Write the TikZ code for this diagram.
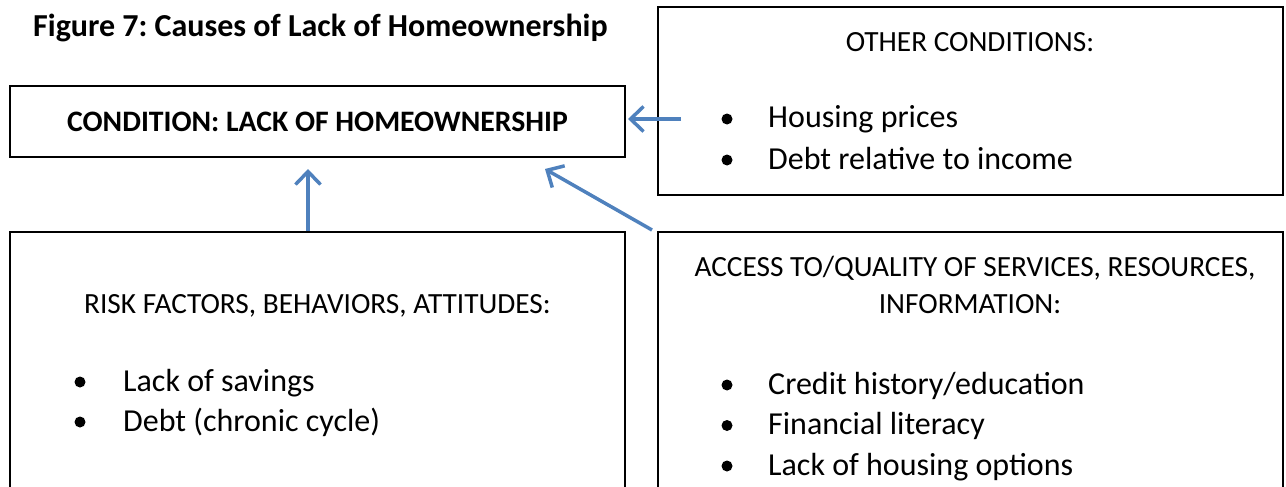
\documentclass[tikz,border=0pt]{standalone}
\usepackage{fontspec}
\setmainfont{Carlito}
\frenchspacing
\usetikzlibrary{arrows.meta,positioning,calc}
\definecolor{arrblue}{HTML}{4F81BD}

\begin{document}
\begin{tikzpicture}[x=1pt, y=-1pt,
    box/.style={draw, line width=2pt, rectangle, inner sep=0pt},
    arr/.style={-{Straight Barb[length=13pt, width=25pt]}, line width=3.5pt, draw=arrblue},
    head/.style={font=\fontsize{29.3}{35}\selectfont, anchor=base, inner sep=0pt},
    item/.style={font=\fontsize{32}{38}\selectfont, anchor=base west, inner sep=0pt},
    dot/.style={circle, fill, inner sep=0pt, minimum size=11pt}
]
    \useasboundingbox (0,0) rectangle (1286,487);
    \clip (0,0) rectangle (1286,487);

    % Title
    \node[anchor=base west, inner sep=0pt, font=\bfseries\fontsize{32}{38}\selectfont]
        (title) at (33,37) {Figure 7: Causes of Lack of Homeownership};

    % Boxes
    \node[box, minimum width=615pt, minimum height=71pt,
          font=\bfseries\fontsize{29.7}{36}\selectfont] (cond) at (317.5,121.5)
        {CONDITION: LACK OF HOMEOWNERSHIP};
    \node[box, minimum width=625pt, minimum height=188pt] (other)  at (970.5,101) {};
    \node[box, minimum width=615pt, minimum height=288pt] (risk)   at (317.5,376) {};
    \node[box, minimum width=625pt, minimum height=288pt] (access) at (970.5,376) {};

    % Headings
    \node[head] (otherhd)  at (970,52)    {OTHER CONDITIONS:};
    \node[head] (riskhd)   at (317.5,313) {RISK FACTORS, BEHAVIORS, ATTITUDES:};
    \node[head] (accesshd) at (975,276)   {ACCESS TO/QUALITY OF SERVICES, RESOURCES,};
    \node[head] (accesshdb) at (970,313)  {INFORMATION:};

    % Bullet lists
    \foreach \txt [count=\i] in {Housing prices, Debt relative to income} {
        \node[dot] (otherdot\i) at (727,{119+(\i-1)*41}) {};
        \node[item] (otheritem\i) at (768,{128+(\i-1)*41}) {\txt};
    }
    \foreach \txt [count=\i] in {Lack of savings, Debt (chronic cycle)} {
        \node[dot] (riskdot\i) at (80,{382+(\i-1)*40}) {};
        \node[item] (riskitem\i) at (123,{391+(\i-1)*40}) {\txt};
    }
    \foreach \txt [count=\i] in {Credit history/education, Financial literacy, Lack of housing options} {
        \node[dot] (accessdot\i) at (727,{385+(\i-1)*40.5}) {};
        \node[item] (accessitem\i) at (768,{394+(\i-1)*40.5}) {\txt};
    }

    % Arrows
    \coordinate (othertail) at (681,119);
    \draw[arr, shorten >=2pt] (othertail) -- (othertail -| cond.east);
    \draw[arr, shorten >=11pt] ([xshift=-9.5pt]risk.north) -- ([xshift=-9.5pt]risk.north |- cond.south);
    \draw[arr] ([shift={(-5,-1)}]access.north west) -- ([shift={(-81,11)}]cond.south east);
\end{tikzpicture}
\end{document}
